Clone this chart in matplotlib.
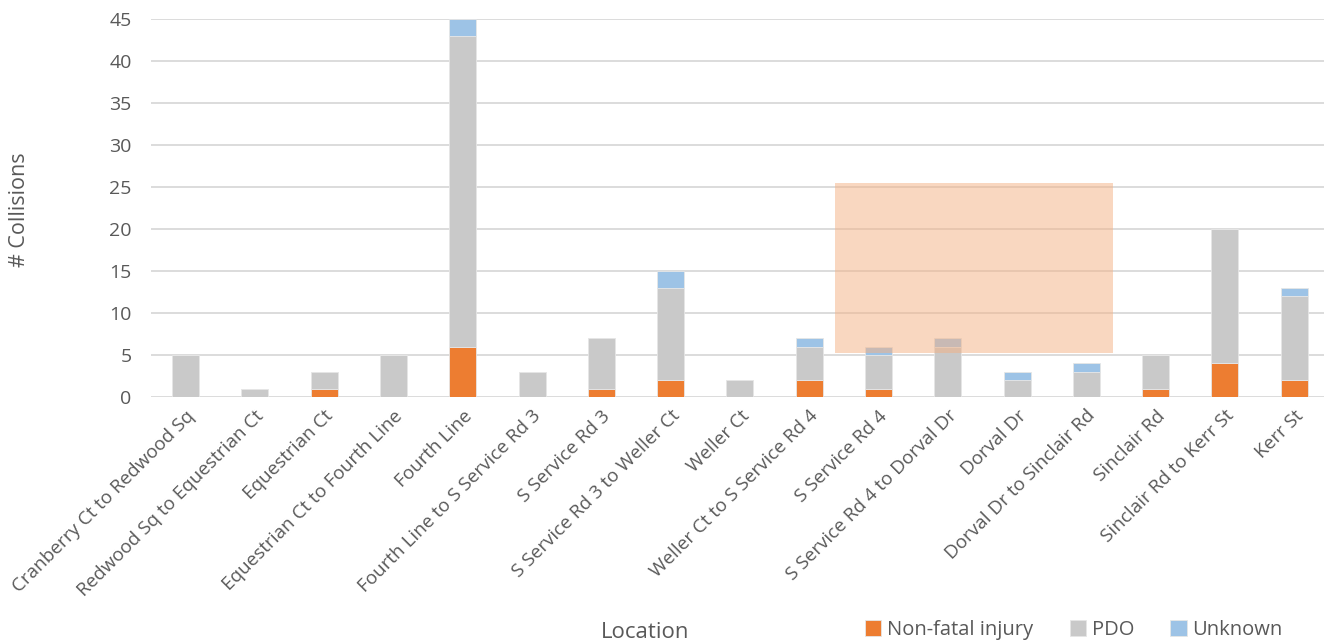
import numpy as np
import matplotlib.pyplot as plt
from matplotlib.patches import Rectangle

plt.rcParams['font.family'] = ['Open Sans', 'DejaVu Sans']

# collision counts by road segment
locations = [
    'Cranberry Ct to Redwood Sq', 'Redwood Sq to Equestrian Ct', 'Equestrian Ct',
    'Equestrian Ct to Fourth Line', 'Fourth Line', 'Fourth Line to S Service Rd 3',
    'S Service Rd 3', 'S Service Rd 3 to Weller Ct', 'Weller Ct',
    'Weller Ct to S Service Rd 4', 'S Service Rd 4', 'S Service Rd 4 to Dorval Dr',
    'Dorval Dr', 'Dorval Dr to Sinclair Rd', 'Sinclair Rd', 'Sinclair Rd to Kerr St',
    'Kerr St',
]
non_fatal = [0, 0, 1, 0, 6, 0, 1, 2, 0, 2, 1, 0, 0, 0, 1, 4, 2]
pdo = [5, 1, 2, 5, 37, 3, 6, 11, 2, 4, 4, 6, 2, 3, 4, 16, 10]
unknown = [0, 0, 0, 0, 2, 0, 0, 2, 0, 1, 1, 1, 1, 1, 0, 0, 1]

# shaded zone over the middle segments (x in category units, y in collisions)
zone_x = (9.37, 13.39)
zone_y = (5.25, 25.5)

fig = plt.figure(figsize=(13.24, 6.42), dpi=100)
ax = fig.add_axes([151 / 1324, 1 - 397 / 642, 1 - 151 / 1324, (397 - 19) / 642])

x = np.arange(len(locations))
nf = np.array(non_fatal)
pd_ = np.array(pdo)
un = np.array(unknown)
w = 0.39
edge = dict(edgecolor='#e6e6e6', linewidth=0.6)
b1 = ax.bar(x, nf, w, color='#ED7D31', label='Non-fatal injury', zorder=2, **edge)
b2 = ax.bar(x, pd_, w, bottom=nf, color='#C9C9C9', label='PDO', zorder=2, **edge)
b3 = ax.bar(x, un, w, bottom=nf + pd_, color='#9DC3E6', label='Unknown', zorder=2, **edge)

ax.add_patch(Rectangle((zone_x[0], zone_y[0]), zone_x[1] - zone_x[0], zone_y[1] - zone_y[0],
                       facecolor='#F4B183', alpha=0.5, edgecolor='none', zorder=3))

ax.set_xlim(-0.5, 16.43)
ax.set_ylim(0, 45)
ax.set_yticks(range(0, 50, 5))
ax.yaxis.grid(True, color='#d9d9d9', linewidth=1.3, zorder=0)
ax.set_axisbelow(True)
for s in ax.spines.values():
    s.set_visible(False)
ax.tick_params(axis='both', length=0, colors='#595959')
ax.tick_params(axis='y', pad=14, labelsize=14)

ax.set_xticks(x)
ax.set_xticklabels(locations, rotation=45, ha='right', rotation_mode='anchor',
                   fontsize=13.6, color='#595959')
ax.tick_params(axis='x', pad=7)

fig.text(645 / 1324, 1 - 632 / 642, 'Location', ha='center', va='center',
         fontsize=16, color='#595959')
fig.text(20 / 1324, 1 - 210 / 642, '# Collisions', ha='center', va='center',
         rotation=90, fontsize=15.5, color='#595959')

fig.legend(handles=[b1, b2, b3], loc='center', bbox_to_anchor=(1074 / 1324, 1 - 630 / 642),
           ncol=3, frameon=False, fontsize=14.5, handlelength=0.8, handleheight=0.8,
           handletextpad=0.3, columnspacing=1.8, labelcolor='#595959')

fig.savefig('out.png', dpi=100)
